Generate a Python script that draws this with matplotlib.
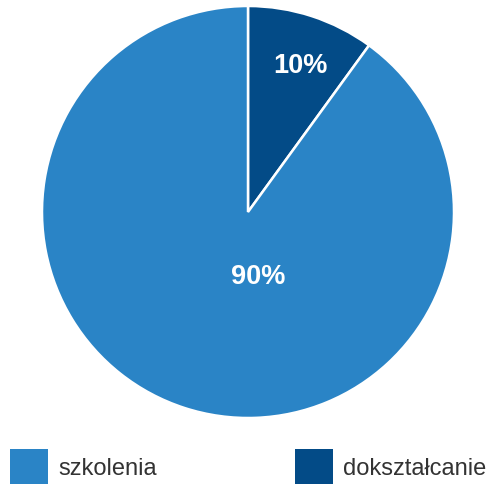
import matplotlib
matplotlib.use("Agg")
import matplotlib.pyplot as plt
from matplotlib.patches import Rectangle

# data
labels = ["dokształcanie", "szkolenia"]
shares = [10, 90]
colors = ["#034b87", "#2a84c6"]
legend_order = ["szkolenia", "dokształcanie"]

W, H = 491, 485
fig = plt.figure(figsize=(W / 100, H / 100), dpi=100)
plt.rcParams["font.family"] = ["Liberation Sans", "DejaVu Sans"]

cx, cy, r = 248, 213, 206
ax = fig.add_axes([(cx - r) / W, (H - cy - r) / H, 2 * r / W, 2 * r / H])
wedges, _ = ax.pie(
    shares,
    colors=colors,
    startangle=90,
    counterclock=False,
    wedgeprops={"edgecolor": "white", "linewidth": 1.8},
    radius=1,
)
ax.set_xlim(-1, 1)
ax.set_ylim(-1, 1)
ax.set_aspect("equal")
ax.axis("off")

# percentage labels
label_pos = {"dokształcanie": (0.254, 0.712), "szkolenia": (0.05, -0.31)}
for lab, val in zip(labels, shares):
    x, y = label_pos[lab]
    ax.text(x, y, f"{val}%", color="white", fontsize=19.5, fontweight="bold",
            ha="center", va="center")

# legend
leg_x = [10, 295]
for lab, lx in zip(legend_order, leg_x):
    col = colors[labels.index(lab)]
    fig.patches.append(Rectangle((lx / W, 0), 38 / W, 35 / H,
                                 transform=fig.transFigure, facecolor=col,
                                 edgecolor="none"))
    fig.text((lx + 48) / W, (H - 469) / H, lab, fontsize=17, color="#333333",
             ha="left", va="center")

fig.savefig("out.png", dpi=100)
